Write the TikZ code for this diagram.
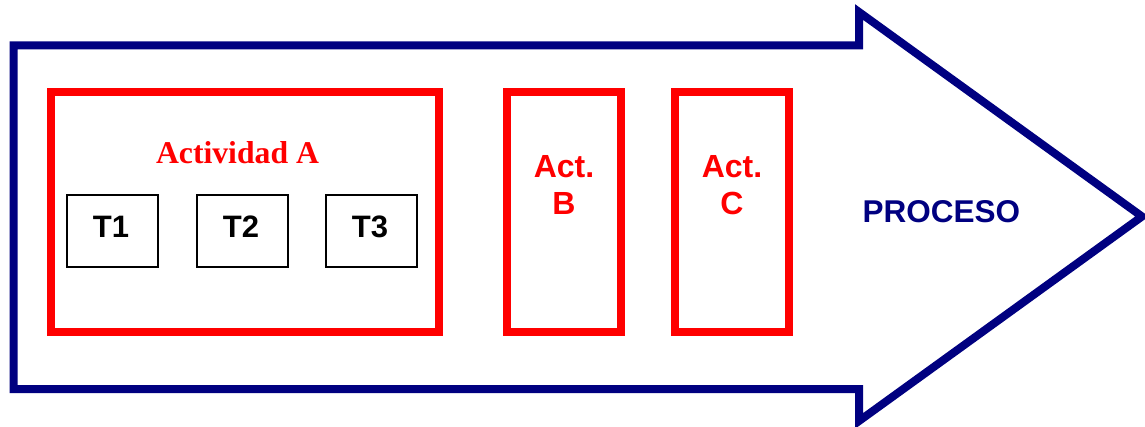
\documentclass[tikz,border=0pt]{standalone}
\usepackage{fontspec}
\newfontfamily\sansf{Liberation Sans}
\newfontfamily\seriff{Liberation Serif}
\definecolor{navyc}{RGB}{0,0,128}
\definecolor{redc}{RGB}{255,0,0}
\tikzset{
  flow/.style={draw=navyc, line width=8pt, miter limit=20},
  actbox/.style={draw=redc, line width=7.5pt, inner sep=0pt},
  taskbox/.style={draw=black, line width=2pt, inner sep=0pt, minimum width=91pt, minimum height=72pt},
  tasklbl/.style={font=\sansf\bfseries\fontsize{31}{37}\selectfont, inner sep=0pt, anchor=base},
  actlbl/.style={font=\sansf\bfseries\fontsize{32}{37.5}\selectfont, text=redc, inner sep=0pt, align=center},
  titlelbl/.style={font=\seriff\bfseries\fontsize{31.7}{36}\selectfont, text=redc, inner sep=0pt, anchor=base},
  proclbl/.style={font=\sansf\bfseries\fontsize{31.5}{37}\selectfont, text=navyc, inner sep=0pt, anchor=base west}
}
\begin{document}
\begin{tikzpicture}[x=1pt,y=-1pt]
\useasboundingbox (0,0) rectangle (1145,427);
% process arrow
\draw[flow] (13.5,45.5) -- (859,45.5) -- (859,12) -- (1142,216.5) -- (859,421) -- (859,389) -- (13.5,389) -- cycle;
\node[proclbl] (proc) at (862.5,223) {PROCESO};
% activity boxes
\node[actbox, minimum width=388pt, minimum height=240pt] (actA) at (245,212) {};
\node[actbox, minimum width=114pt, minimum height=240pt] (actB) at (564,212) {};
\node[actbox, minimum width=114pt, minimum height=240pt] (actC) at (732,212) {};
\node[titlelbl] (titA) at (237.5,164) {Actividad A};
\node[actlbl] (lblB) at (564,185) {Act.\\B};
\node[actlbl] (lblC) at (732,185) {Act.\\C};
% tasks
\node[taskbox] (t1) at (112.5,231.5) {};
\node[taskbox] (t2) at (242,231.5) {};
\node[taskbox] (t3) at (371,231.5) {};
\node[tasklbl] (l1) at (111,237.5) {T1};
\node[tasklbl] (l2) at (241,237.5) {T2};
\node[tasklbl] (l3) at (370,237.5) {T3};
\end{tikzpicture}
\end{document}
